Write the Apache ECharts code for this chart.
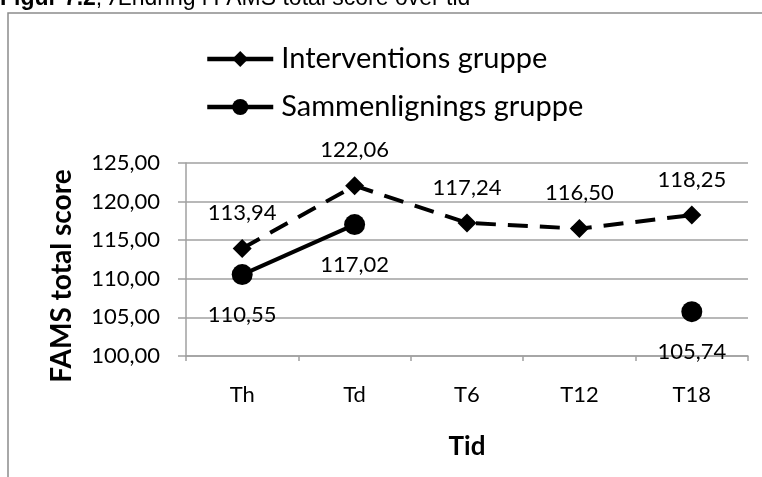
<!DOCTYPE html>
<html>
<head>
<meta charset="utf-8">
<script src="https://cdn.jsdelivr.net/npm/echarts@6/dist/echarts.min.js"></script>
<style>
  html, body { margin: 0; padding: 0; background: #fff; }
  #chart { width: 762px; height: 477px; }
</style>
</head>
<body>
<div id="chart"></div>
<script>
// Data
const categories = ['Th', 'Td', 'T6', 'T12', 'T18'];
const interventionValues = [113.94, 122.06, 117.24, 116.50, 118.25];
const comparisonValues = [110.55, 117.02, null, null, 105.74];
const seriesNames = ['Interventions gruppe', 'Sammenlignings gruppe'];
const yTicks = { min: 100, max: 125, step: 5 };

const fmt = v => Number(v).toFixed(2).replace('.', ',');
const font = 'Lato, "Open Sans", sans-serif';
const gridColor = '#a0a0a0';

let chart = echarts.init(document.getElementById('chart'));

const option = {
  animation: false,
  graphic: [
    {
      type: 'rect',
      shape: { x: 8, y: 13, width: 900, height: 600 },
      style: { fill: 'none', stroke: '#8c8c8c', lineWidth: 1.5 },
      silent: true
    },
    // figure caption, cut off at the top edge like the original
    {
      type: 'text',
      x: 0,
      y: -1,
      style: {
        text: '{b|Figur 7.2}{n|, Ændring i FAMS total score over tid}',
        verticalAlign: 'middle',
        rich: {
          b: { font: 'bold 23px "Liberation Sans", Arial, sans-serif', fill: '#000' },
          n: { font: '23px "Liberation Sans", Arial, sans-serif', fill: '#000' }
        }
      }
    },
    // y axis title, placed like the original (sits a bit below the plot centre)
    {
      type: 'text',
      x: 62,
      y: 276,
      rotation: Math.PI / 2,
      style: {
        text: 'FAMS total score',
        font: 'bold 28px Lato, "Open Sans", sans-serif',
        fill: '#000',
        align: 'center',
        verticalAlign: 'middle'
      }
    }
  ],
  legend: {
    orient: 'vertical',
    left: 200,
    top: 36,
    itemWidth: 66,
    itemHeight: 20,
    itemGap: 12,
    textStyle: { fontFamily: font, fontSize: 29, color: '#000', lineHeight: 36, padding: [0, 0, 0, 3] },
    data: [
      { name: seriesNames[0], lineStyle: { type: 'solid', width: 4.5 } },
      { name: seriesNames[1], lineStyle: { width: 4.5 } }
    ]
  },
  grid: { left: 186, right: 14, top: 163, bottom: 121 },
  xAxis: {
    type: 'category',
    data: categories,
    boundaryGap: true,
    axisLine: { lineStyle: { color: gridColor, width: 1.5 } },
    axisTick: { show: true, length: 5, lineStyle: { color: gridColor, width: 1.5 } },
    axisLabel: { fontFamily: font, fontSize: 22, color: '#000', margin: 28 },
    name: 'Tid',
    nameLocation: 'middle',
    nameGap: 78,
    nameTextStyle: { fontFamily: font, fontSize: 26, fontWeight: 'bold', color: '#000' }
  },
  yAxis: {
    type: 'value',
    min: yTicks.min,
    max: yTicks.max,
    interval: yTicks.step,
    axisLine: { show: true, lineStyle: { color: gridColor, width: 1.5 } },
    axisTick: { show: true, length: 8, lineStyle: { color: gridColor, width: 1.5 } },
    splitLine: { lineStyle: { color: gridColor, width: 1.5 } },
    axisLabel: { fontFamily: font, fontSize: 22, color: '#000', margin: 26, formatter: fmt }
  },
  series: [
    {
      name: seriesNames[0],
      type: 'line',
      data: interventionValues,
      symbol: 'diamond',
      symbolSize: [19, 19],
      itemStyle: { color: '#000' },
      lineStyle: { color: '#000', width: 4, type: [20, 12] },
      label: {
        show: true, position: 'top', distance: 15,
        fontFamily: font, fontSize: 22, color: '#000',
        formatter: p => fmt(p.value)
      }
    },
    {
      name: seriesNames[1],
      type: 'line',
      data: comparisonValues,
      connectNulls: false,
      symbol: 'circle',
      symbolSize: 21,
      showSymbol: true,
      itemStyle: { color: '#000' },
      lineStyle: { color: '#000', width: 4 },
      label: {
        show: true, position: 'bottom', distance: 19,
        fontFamily: font, fontSize: 22, color: '#000',
        formatter: p => fmt(p.value)
      }
    }
  ]
};
chart.setOption(option);
</script>
</body>
</html>
